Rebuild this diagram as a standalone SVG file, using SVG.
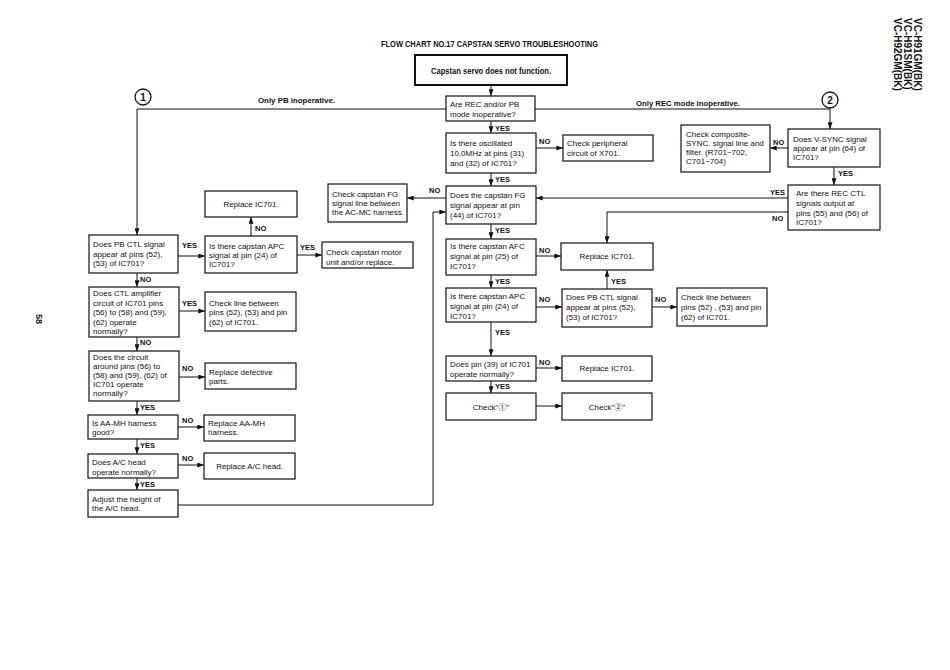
<svg xmlns="http://www.w3.org/2000/svg" width="950" height="670" viewBox="0 0 950 670">
<defs>
<marker id="ah" viewBox="0 0 8 6" refX="8" refY="3" markerWidth="7" markerHeight="5" orient="auto" markerUnits="userSpaceOnUse"><path d="M0,0 L8,3 L0,6 z" fill="#111"/></marker>
<style>
.b{fill:#fff;stroke:#111;stroke-width:1.2}
.bt{fill:#fff;stroke:#111;stroke-width:2}
.t{font-family:"Liberation Sans","Noto Sans CJK JP",sans-serif;font-size:8px;fill:#111}
.c{text-anchor:middle}
.l{font-family:"Liberation Sans",sans-serif;font-size:7.5px;font-weight:bold;fill:#111}
.h{font-family:"Liberation Sans",sans-serif;font-weight:bold;fill:#111}
.w{fill:none;stroke:#111;stroke-width:1}
.a{fill:none;stroke:#111;stroke-width:1;marker-end:url(#ah)}
</style>
</defs>
<rect width="950" height="670" fill="#fff"/>

<text class="h" x="381" y="47" font-size="8.5" textLength="217" lengthAdjust="spacingAndGlyphs">FLOW CHART NO.17 CAPSTAN SERVO TROUBLESHOOTING</text>
<g transform="translate(914,18) rotate(90)">
<text class="h" font-size="10" x="0" y="0">VC-H91GM(BK)</text>
<text class="h" font-size="10" x="0" y="10">VC-H91SM(BK)</text>
<text class="h" font-size="10" x="0" y="20">VC-H92GM(BK)</text>
</g>
<text class="h" font-size="9" transform="translate(36,314) rotate(90)">58</text>

<g id="connectors">
<path class="a" d="M491,85 V96"/>
<path class="a" d="M446,109 H137 V235"/>
<path class="a" d="M535,109 H830 V129"/>
<path class="a" d="M491,121 V133"/>
<path class="a" d="M491,173 V186"/>
<path class="a" d="M491,224 V239"/>
<path class="a" d="M491,275 V288"/>
<path class="a" d="M491,322 V356"/>
<path class="a" d="M491,381 V393"/>
<path class="a" d="M536,148 H563"/>
<path class="a" d="M446,198 H407"/>
<path class="a" d="M536,256 H561"/>
<path class="a" d="M536,307 H562"/>
<path class="a" d="M607,289 V270"/>
<path class="a" d="M652,307 H677"/>
<path class="a" d="M536,368 H562"/>
<path class="a" d="M536,406 H562"/>
<path class="a" d="M788,148 H770"/>
<path class="a" d="M834,167 V185"/>
<path class="a" d="M788,198 H536"/>
<path class="a" d="M788,212 H607 V243"/>
<path class="a" d="M178,256 H205"/>
<path class="a" d="M251,236 V217"/>
<path class="a" d="M297,255 H322"/>
<path class="a" d="M137,273 V287"/>
<path class="a" d="M179,311 H205"/>
<path class="a" d="M137,337 V351"/>
<path class="a" d="M179,377 H205"/>
<path class="a" d="M137,401 V415"/>
<path class="a" d="M178,427 H204"/>
<path class="a" d="M137,439 V454"/>
<path class="a" d="M178,465 H204"/>
<path class="a" d="M137,478 V490"/>
<path class="a" d="M178,505 H433 V212 H446"/>
<text class="h" x="258" y="103" font-size="8" textLength="77" lengthAdjust="spacingAndGlyphs">Only PB inoperative.</text>
<text class="h" x="636" y="106" font-size="8" textLength="104" lengthAdjust="spacingAndGlyphs">Only REC mode inoperative.</text>
<text class="l" x="495" y="131">YES</text>
<text class="l" x="495" y="182">YES</text>
<text class="l" x="495" y="233">YES</text>
<text class="l" x="495" y="284">YES</text>
<text class="l" x="495" y="335">YES</text>
<text class="l" x="495" y="389">YES</text>
<text class="l" x="539" y="144">NO</text>
<text class="l" x="429" y="193">NO</text>
<text class="l" x="539" y="253">NO</text>
<text class="l" x="539" y="302">NO</text>
<text class="l" x="611" y="284">YES</text>
<text class="l" x="655" y="302">NO</text>
<text class="l" x="539" y="365">NO</text>
<text class="l" x="773" y="145">NO</text>
<text class="l" x="838" y="176">YES</text>
<text class="l" x="770" y="195">YES</text>
<text class="l" x="772" y="221">NO</text>
<text class="l" x="182" y="248">YES</text>
<text class="l" x="255" y="231">NO</text>
<text class="l" x="300" y="250">YES</text>
<text class="l" x="140" y="282">NO</text>
<text class="l" x="182" y="306">YES</text>
<text class="l" x="140" y="345">NO</text>
<text class="l" x="182" y="371">NO</text>
<text class="l" x="140" y="410">YES</text>
<text class="l" x="182" y="423">NO</text>
<text class="l" x="140" y="448">YES</text>
<text class="l" x="182" y="461">NO</text>
<text class="l" x="140" y="487">YES</text>
</g>

<g id="c1"><circle cx="143" cy="97" r="8" fill="#fff" stroke="#111" stroke-width="1.3"/><text class="h c" x="143" y="101" font-size="10" text-anchor="middle">1</text></g>
<g id="c2"><circle cx="830" cy="100" r="8" fill="#fff" stroke="#111" stroke-width="1.3"/><text class="h c" x="830" y="104" font-size="10" text-anchor="middle">2</text></g>

<g id="start"><rect class="bt" x="415" y="55" width="152" height="30"/><text class="h" x="431" y="74" font-size="8.5" textLength="120" lengthAdjust="spacingAndGlyphs">Capstan servo does not function.</text></g>

<g id="recpb"><rect class="b" x="446" y="96" width="89" height="25"/><text class="t"><tspan x="450" y="107">Are REC and/or PB</tspan><tspan x="450" y="117">mode inoperative?</tspan></text></g>
<g id="osc"><rect class="b" x="446" y="133" width="90" height="40"/><text class="t"><tspan x="450" y="146">Is there oscillated</tspan><tspan x="450" y="156">10.0MHz at pins (31)</tspan><tspan x="450" y="166">and (32) of IC701?</tspan></text></g>
<g id="periph"><rect class="b" x="563" y="135" width="90" height="26"/><text class="t"><tspan x="567" y="146">Check peripheral</tspan><tspan x="567" y="156">circuit of X701.</tspan></text></g>
<g id="fg"><rect class="b" x="446" y="186" width="90" height="38"/><text class="t"><tspan x="450" y="198">Does the capstan FG</tspan><tspan x="450" y="208">signal appear at pin</tspan><tspan x="450" y="218">(44) of IC701?</tspan></text></g>
<g id="fgline"><rect class="b" x="328" y="184" width="79" height="38"/><text class="t"><tspan x="332" y="197">Check capstan FG</tspan><tspan x="332" y="206">signal line between</tspan><tspan x="332" y="215">the AC-MC harness.</tspan></text></g>
<g id="afc"><rect class="b" x="446" y="239" width="90" height="36"/><text class="t"><tspan x="450" y="249">Is there capstan AFC</tspan><tspan x="450" y="259">signal at pin (25) of</tspan><tspan x="450" y="269">IC701?</tspan></text></g>
<g id="rep1"><rect class="b" x="561" y="243" width="92" height="27"/><text class="t c" x="607" y="259" text-anchor="middle">Replace IC701.</text></g>
<g id="apc"><rect class="b" x="446" y="288" width="90" height="34"/><text class="t"><tspan x="450" y="299">Is there capstan APC</tspan><tspan x="450" y="309">signal at pin (24) of</tspan><tspan x="450" y="319">IC701?</tspan></text></g>
<g id="pbctl2"><rect class="b" x="562" y="289" width="90" height="38"/><text class="t"><tspan x="566" y="300">Does PB CTL signal</tspan><tspan x="566" y="310">appear at  pins (52),</tspan><tspan x="566" y="320">(53) of  IC701?</tspan></text></g>
<g id="line2"><rect class="b" x="677" y="288" width="90" height="38"/><text class="t"><tspan x="681" y="300">Check line between</tspan><tspan x="681" y="310">pins (52) , (53) and pin</tspan><tspan x="681" y="320">(62) of IC701.</tspan></text></g>
<g id="pin39"><rect class="b" x="446" y="356" width="90" height="25"/><text class="t"><tspan x="450" y="367">Does pin (39) of IC701</tspan><tspan x="450" y="377">operate normally?</tspan></text></g>
<g id="rep2"><rect class="b" x="562" y="356" width="90" height="25"/><text class="t c" x="607" y="371" text-anchor="middle">Replace IC701.</text></g>
<g id="chk1"><rect class="b" x="446" y="393" width="90" height="27"/><text class="t c" x="491" y="410" text-anchor="middle">Check"①"</text></g>
<g id="chk2"><rect class="b" x="562" y="393" width="90" height="27"/><text class="t c" x="607" y="410" text-anchor="middle">Check"②"</text></g>

<g id="comp"><rect class="b" x="681" y="125" width="89" height="47"/><text class="t"><tspan x="686" y="137">Check composite-</tspan><tspan x="686" y="146">SYNC. signal line and</tspan><tspan x="686" y="155">filter. (R701~702,</tspan><tspan x="686" y="164">C701~704)</tspan></text></g>
<g id="vsync"><rect class="b" x="788" y="129" width="92" height="38"/><text class="t"><tspan x="793" y="142">Does V-SYNC signal</tspan><tspan x="793" y="151">appear at pin (64) of</tspan><tspan x="793" y="160">IC701?</tspan></text></g>
<g id="recctl"><rect class="b" x="788" y="185" width="92" height="45"/><text class="t"><tspan x="796" y="196">Are there REC CTL</tspan><tspan x="796" y="206">signals output at</tspan><tspan x="796" y="216">pins (55) and  (56) of</tspan><tspan x="796" y="225">IC701?</tspan></text></g>

<g id="pbctl1"><rect class="b" x="89" y="235" width="89" height="38"/><text class="t"><tspan x="93" y="247">Does PB CTL signal</tspan><tspan x="93" y="257">appear at pins (52),</tspan><tspan x="93" y="266">(53) of IC701?</tspan></text></g>
<g id="rep0"><rect class="b" x="205" y="191" width="92" height="26"/><text class="t c" x="251" y="207" text-anchor="middle">Replace IC701.</text></g>
<g id="apc1"><rect class="b" x="205" y="236" width="92" height="37"/><text class="t"><tspan x="209" y="249">Is there capstan APC</tspan><tspan x="209" y="258">signal at pin (24) of</tspan><tspan x="209" y="267">IC701?</tspan></text></g>
<g id="motor"><rect class="b" x="322" y="242" width="91" height="26"/><text class="t"><tspan x="326" y="255">Check capstan motor</tspan><tspan x="326" y="265">unit and/or replace.</tspan></text></g>
<g id="ctlamp"><rect class="b" x="89" y="287" width="90" height="50"/><text class="t"><tspan x="93" y="296">Does CTL amplifier</tspan><tspan x="93" y="305.5">circuit of IC701 pins</tspan><tspan x="93" y="315">(56) to (58) and (59),</tspan><tspan x="93" y="324.5">(62) operate</tspan><tspan x="93" y="334">normally?</tspan></text></g>
<g id="line1"><rect class="b" x="205" y="292" width="91" height="39"/><text class="t"><tspan x="209" y="306">Check line between</tspan><tspan x="209" y="315">pins (52), (53) and pin</tspan><tspan x="209" y="325">(62) of IC701.</tspan></text></g>
<g id="circuit"><rect class="b" x="89" y="351" width="90" height="50"/><text class="t"><tspan x="93" y="360">Does the circuit</tspan><tspan x="93" y="369">around pins (56) to</tspan><tspan x="93" y="378">(58) and (59), (62) of</tspan><tspan x="93" y="387">IC701 operate</tspan><tspan x="93" y="396">normally?</tspan></text></g>
<g id="defect"><rect class="b" x="205" y="363" width="91" height="26"/><text class="t"><tspan x="209" y="375">Replace defective</tspan><tspan x="209" y="384">parts.</tspan></text></g>
<g id="aamh"><rect class="b" x="88" y="415" width="90" height="24"/><text class="t"><tspan x="92" y="426">Is AA-MH harness</tspan><tspan x="92" y="435">good?</tspan></text></g>
<g id="repaamh"><rect class="b" x="204" y="415" width="91" height="26"/><text class="t"><tspan x="208" y="426">Replace AA-MH</tspan><tspan x="208" y="435">harness.</tspan></text></g>
<g id="achead"><rect class="b" x="88" y="454" width="90" height="24"/><text class="t"><tspan x="92" y="465">Does A/C head</tspan><tspan x="92" y="475">operate normally?</tspan></text></g>
<g id="repac"><rect class="b" x="204" y="453" width="91" height="26"/><text class="t c" x="249.5" y="469" text-anchor="middle">Replace A/C head.</text></g>
<g id="adjust"><rect class="b" x="88" y="490" width="90" height="27"/><text class="t"><tspan x="92" y="502">Adjust the height of</tspan><tspan x="92" y="511">the A/C head.</tspan></text></g>
</svg>
